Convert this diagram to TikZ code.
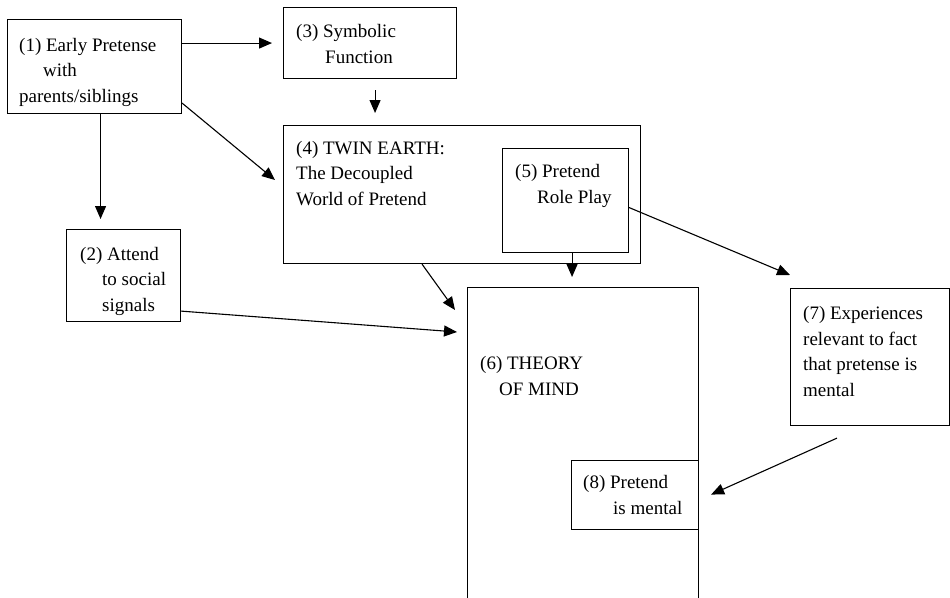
\documentclass[tikz,border=0pt]{standalone}
\usepackage{fontspec}
\setmainfont{Liberation Serif}
\usetikzlibrary{arrows.meta, calc, positioning}

\tikzset{
  box/.style={draw, line width=1.1pt, anchor=north west, inner sep=0pt},
  lbl/.style={anchor=base west, align=left, inner sep=0pt, font=\fontsize{19}{25.5}\selectfont},
  arr/.style={-{Triangle[length=13pt, width=11pt]}, line width=1.1pt},
}

\begin{document}
\begin{tikzpicture}[x=1pt, y=-1pt]
\useasboundingbox (0,0) rectangle (950,597);
\clip (0,0) rectangle (950,597);

% boxes
\node[box, minimum width=174pt, minimum height=94pt] (b1) at (7,19) {};
\node[box, minimum width=173pt, minimum height=71pt] (b3) at (283,7) {};
\node[box, minimum width=357pt, minimum height=138pt] (b4) at (283,125) {};
\node[box, minimum width=126pt, minimum height=104pt] (b5) at (502,148) {};
\node[box, minimum width=114pt, minimum height=92pt] (b2) at (66,229) {};
\node[box, minimum width=231pt, minimum height=340pt] (b6) at (467,287) {};
\node[box, minimum width=159pt, minimum height=137pt] (b7) at (790,288) {};
\node[box, minimum width=127pt, minimum height=69pt] (b8) at (571,460) {};

% labels (placed at the baseline of their last line)
\node[lbl] (t1) at (19,102) {(1) Early Pretense\\\hspace*{24pt}with\\parents/siblings};
\node[lbl] (t3) at (296,63) {(3) Symbolic\\\hspace*{29pt}Function};
\node[lbl] (t4) at (296,205) {(4) TWIN EARTH:\\The Decoupled\\World of Pretend};
\node[lbl] (t5) at (515,203) {(5) Pretend\\\hspace*{22pt}Role Play};
\node[lbl] (t2) at (80,311) {(2) Attend\\\hspace*{22pt}to social\\\hspace*{22pt}signals};
\node[lbl] (t6) at (480,395) {(6) THEORY\\\hspace*{19pt}OF MIND};
\node[lbl] (t7) at (803,396) {(7) Experiences\\relevant to fact\\that pretense is\\mental};
\node[lbl] (t8) at (583,514) {(8) Pretend\\\hspace*{30pt}is mental};

% arrows
\draw
(b1.east |- b3.west) edge[arr, shorten >=11pt] (b3.west)
([xshift=5pt]b3.south) edge[arr, shorten <=11pt, shorten >=12pt] ([xshift=5pt]b3.south |- b4.north)
([yshift=11pt]b1.south east) edge[arr] ($(b4.north west)+(-8,55)$)
([xshift=6pt]b1.south) edge[arr, shorten >=10pt] ([xshift=6pt]b1.south |- b2.north)
([yshift=11pt]b2.south east) edge[arr] ($(b6.north west)+(-10,45)$)
($(b4.south west)+(139,0)$) edge[arr] ($(b6.north west)+(-12,23)$)
([xshift=6.5pt]b5.south) edge[arr, shorten >=10pt] ([xshift=6.5pt]b5.south |- b6.north)
([yshift=-7pt]b5.east) edge[arr] ($(b7.north west)+(0,-13)$)
($(b7.south west)+(47,12)$) edge[arr] ($(b8.east)+(12,-0.5)$);
\end{tikzpicture}
\end{document}
